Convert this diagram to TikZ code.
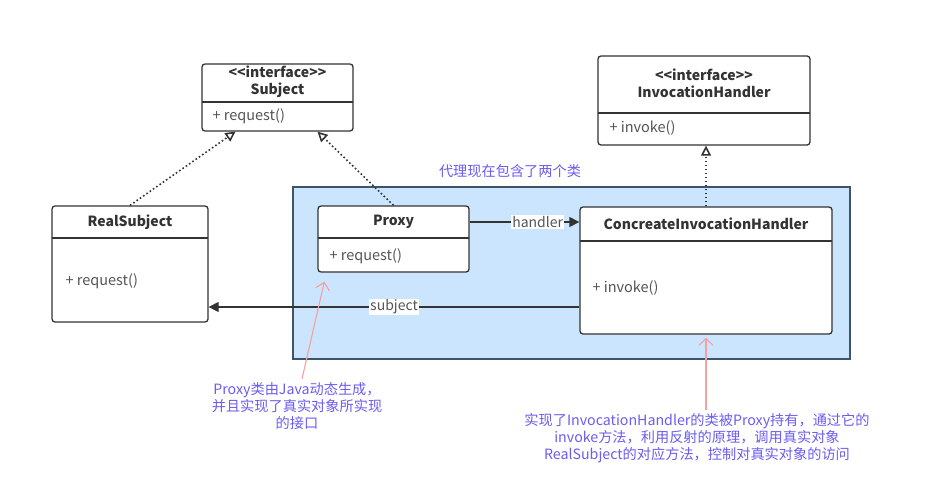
\documentclass[tikz,border=0pt]{standalone}
\usepackage{fontspec}
\newfontfamily\cjk{Noto Sans CJK SC}
\usetikzlibrary{arrows.meta, positioning, calc}
\definecolor{colorLinea}{HTML}{333333}
\definecolor{colorMetodo}{HTML}{555555}
\definecolor{fondoGrupo}{HTML}{CCE5FF}
\definecolor{bordeGrupo}{HTML}{3F5468}
\definecolor{colorNota}{HTML}{6A5CF2}
\definecolor{colorRosa}{HTML}{F5A0A0}

\begin{document}
\begin{tikzpicture}[x=1pt, y=-1pt,
        caja/.style={draw=colorLinea, line width=1.3pt, rounded corners=3pt, fill=white, inner sep=0pt},
        grupo/.style={draw=bordeGrupo, line width=1.3pt, fill=fondoGrupo, inner sep=0pt},
        titulo/.style={font=\cjk\bfseries\fontsize{14}{17}\selectfont, text=colorLinea, align=center},
        metodo/.style={font=\cjk\fontsize{14.5}{16}\selectfont, text=colorMetodo},
        nota/.style={font=\cjk\fontsize{14.2}{17}\selectfont, text=colorNota, align=center},
        div/.style={draw=colorLinea, line width=1.3pt},
        realiza/.style={-{Triangle[open, length=10pt, width=10pt]}, colorLinea, line width=1.6pt,
            dash pattern=on 1.6pt off 2.4pt},
        rel/.style={-{Triangle[length=10pt, width=10pt]}, colorLinea, line width=1.3pt},
        etiq/.style={fill=white, inner sep=1pt, font=\cjk\fontsize{14}{15}\selectfont, text=colorMetodo},
        senal/.style={-{Straight Barb[length=7pt, width=14pt]}, colorRosa, line width=1.1pt}
    ]
        \useasboundingbox (0,0) rectangle (952,498);

        % grupo del proxy
        \node[grupo, minimum width=557pt, minimum height=172pt] (grupo) at (571.5,273) {};
        \node[nota, anchor=south] (grupoT) at (510,181) {代理现在包含了两个类};

        % Subject
        \node[caja, minimum width=151pt, minimum height=67pt] (subj) at (277.5,97.5) {};
        \draw[div] (202,102) -- (353,102);
        \node[titulo] (subjT) at (277.5,82) {<<interface>>\\Subject};
        \node[metodo, anchor=west] (subjM) at (209,116) {+ request()};

        % InvocationHandler
        \node[caja, minimum width=212pt, minimum height=89pt] (ih) at (704,100.5) {};
        \draw[div] (598,113) -- (810,113);
        \node[titulo] (ihT) at (704,83) {<<interface>>\\InvocationHandler};
        \node[metodo, anchor=west] (ihM) at (606,128) {+ invoke()};

        % RealSubject
        \node[caja, minimum width=156pt, minimum height=116pt] (real) at (130,264) {};
        \draw[div] (52,238) -- (208,238);
        \node[titulo] (realT) at (130,222) {RealSubject};
        \node[metodo, anchor=west] (realM) at (62,281) {+ request()};

        % Proxy
        \node[caja, minimum width=151pt, minimum height=66pt] (proxy) at (393.5,239) {};
        \draw[div] (318,238) -- (469,238);
        \node[titulo] (proxyT) at (393.5,222) {Proxy};
        \node[metodo, anchor=west] (proxyM) at (326,256) {+ request()};

        % ConcreateInvocationHandler
        \node[caja, minimum width=252pt, minimum height=127pt] (cih) at (706,270.5) {};
        \draw[div] (580,241) -- (832,241);
        \node[titulo] (cihT) at (706,224) {ConcreateInvocationHandler};
        \node[metodo, anchor=west] (cihM) at (589,288) {+ invoke()};

        % relaciones
        \draw[realiza] (real.north) -- ([xshift=-42pt]subj.south);
        \draw[realiza] (proxy.north) -- ([xshift=40pt]subj.south);
        \draw[realiza] (cih.north) -- (cih.north |- ih.south);
        \draw[rel] ([yshift=17pt]proxy.east) -- ([yshift=17pt]proxy.east -| cih.west)
            node[etiq, pos=0.62] {handler};
        \draw[rel] ([yshift=-36.5pt]cih.west) -- ([yshift=-36.5pt]cih.west -| real.east)
            node[etiq, pos=0.5] {subject};

        % notas
        \node[nota] (nota1) at (297,406) {Proxy类由Java动态生成，\\并且实现了真实对象所实现\\的接口};
        \node[nota] (nota2) at (697,438) {实现了InvocationHandler的类被Proxy持有，通过它的\\invoke方法，利用反射的原理，调用真实对象\\RealSubject的对应方法，控制对真实对象的访问};
        \draw[senal] ([xshift=5pt]nota1.north) -- ([xshift=7pt, yshift=-9pt]proxy.south west);
        \draw[senal] ([xshift=9pt]nota2.north) -- ([yshift=-3pt]cih.south);
    \end{tikzpicture}
\end{document}
